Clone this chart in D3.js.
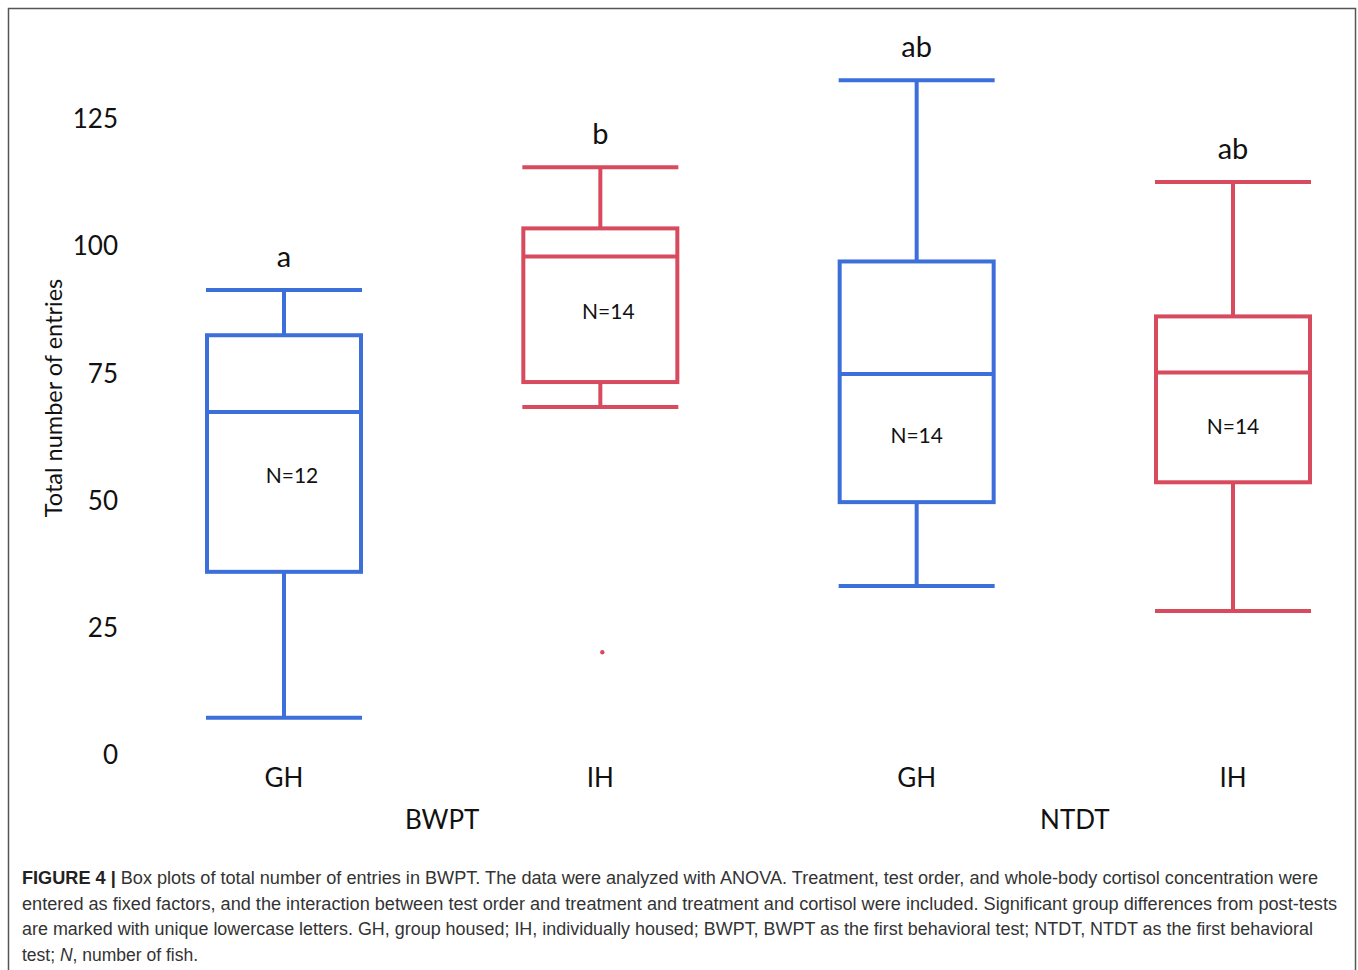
<!DOCTYPE html>
<html>
<head>
<meta charset="utf-8">
<script src="https://cdn.jsdelivr.net/npm/d3@7"></script>
<style>
  body { margin: 0; background: #fff; }
  svg { display: block; }
</style>
</head>
<body>
<div id="chart"></div>
<script>
// data
var groups = ['GH', 'IH', 'GH', 'IH']
var tests = ['BWPT', 'NTDT']
var whiskerLow = [7.3, 68.4, 33.2, 28.3]
var q1 = [36, 73.3, 49.7, 53.6]
var median = [67.4, 98, 74.9, 75.2]
var q3 = [82.5, 103.5, 97, 86.2]
var whiskerHigh = [91.4, 115.5, 132.6, 112.6]
var outliers = [[], [20.2], [], []]
var letters = ['a', 'b', 'ab', 'ab']
var nLabels = ['N=12', 'N=14', 'N=14', 'N=14']
var nLabelAt = [55, 87.2, 62.7, 64.6]
var yTicks = [0, 25, 50, 75, 100, 125]

var W = 1358, H = 970
var blue = '#3d6fdb', red = '#d84a5e'
var colors = [blue, red, blue, red]
var chartFont = 'Lato, "Open Sans", sans-serif'

var svg = d3.select('#chart').append('svg')
  .attr('width', W)
  .attr('height', H)

// frame
svg.append('rect')
  .attr('x', 8.5).attr('y', 8.5)
  .attr('width', 1347).attr('height', 980)
  .attr('fill', 'none')
  .attr('stroke', '#555')
  .attr('stroke-width', 1.5)

var y = d3.scaleLinear().domain([0, 125]).range([755, 119])
var x = d3.scalePoint().domain(d3.range(groups.length)).range([284, 1233])
var boxW = 154

// y tick labels, no axis line
svg.selectAll('text.ytick')
  .data(yTicks)
  .enter().append('text')
  .attr('class', 'ytick')
  .attr('x', 118)
  .attr('y', function(d){ return y(d) })
  .attr('dy', '0.35em')
  .attr('text-anchor', 'end')
  .style('font-family', chartFont)
  .style('font-size', '26px')
  .attr('fill', '#111')
  .text(function(d){ return d })

svg.append('text')
  .attr('transform', 'translate(62,' + 398 + ') rotate(-90)')
  .attr('text-anchor', 'middle')
  .style('font-family', chartFont)
  .style('font-size', '23.5px')
  .attr('fill', '#111')
  .text('Total number of entries')

var box = svg.selectAll('g.box')
  .data(groups)
  .enter().append('g')
  .attr('class', 'box')

box.each(function(g, i){
  var sel = d3.select(this)
  var cx = x(i)
  var c = colors[i]
  // whiskers
  sel.append('line')
    .attr('x1', cx).attr('x2', cx)
    .attr('y1', y(whiskerHigh[i])).attr('y2', y(q3[i]))
    .attr('stroke', c).attr('stroke-width', 4)
  sel.append('line')
    .attr('x1', cx).attr('x2', cx)
    .attr('y1', y(q1[i])).attr('y2', y(whiskerLow[i]))
    .attr('stroke', c).attr('stroke-width', 4)
  // caps
  ;[whiskerHigh[i], whiskerLow[i]].forEach(function(v){
    sel.append('line')
      .attr('x1', cx - boxW / 2 - 1).attr('x2', cx + boxW / 2 + 1)
      .attr('y1', y(v)).attr('y2', y(v))
      .attr('stroke', c).attr('stroke-width', 4)
  })
  // box
  sel.append('rect')
    .attr('x', cx - boxW / 2)
    .attr('y', y(q3[i]))
    .attr('width', boxW)
    .attr('height', y(q1[i]) - y(q3[i]))
    .attr('fill', 'none')
    .attr('stroke', c).attr('stroke-width', 4)
  sel.append('line')
    .attr('x1', cx - boxW / 2).attr('x2', cx + boxW / 2)
    .attr('y1', y(median[i])).attr('y2', y(median[i]))
    .attr('stroke', c).attr('stroke-width', 4)
  // outliers
  outliers[i].forEach(function(v){
    sel.append('circle')
      .attr('cx', cx + 2).attr('cy', y(v))
      .attr('r', 2.2)
      .attr('fill', c)
  })
  // group letter
  sel.append('text')
    .attr('x', cx)
    .attr('y', y(whiskerHigh[i]) - 23)
    .attr('text-anchor', 'middle')
    .style('font-family', chartFont)
    .style('font-size', '29px')
    .attr('fill', '#111')
    .text(letters[i])
  // N label
  sel.append('text')
    .attr('x', cx + (i < 2 ? 8 : 0))
    .attr('y', y(nLabelAt[i]))
    .attr('dy', '0.35em')
    .attr('text-anchor', 'middle')
    .style('font-family', chartFont)
    .style('font-size', '21px')
    .attr('fill', '#111')
    .text(nLabels[i])
  // x label
  sel.append('text')
    .attr('x', cx)
    .attr('y', 787)
    .attr('text-anchor', 'middle')
    .style('font-family', chartFont)
    .style('font-size', '26px')
    .attr('fill', '#111')
    .text(g)
})

tests.forEach(function(t, j){
  svg.append('text')
    .attr('x', (x(j * 2) + x(j * 2 + 1)) / 2)
    .attr('y', 829)
    .attr('text-anchor', 'middle')
    .style('font-family', chartFont)
    .style('font-size', '26px')
    .attr('fill', '#111')
    .text(t)
})

// caption
var capLines = [
  [['b', 'FIGURE 4 | '], ['', 'Box plots of total number of entries in BWPT. The data were analyzed with ANOVA. Treatment, test order, and whole-body cortisol concentration were']],
  [['', 'entered as fixed factors, and the interaction between test order and treatment and treatment and cortisol were included. Significant group differences from post-tests']],
  [['', 'are marked with unique lowercase letters. GH, group housed; IH, individually housed; BWPT, BWPT as the first behavioral test; NTDT, NTDT as the first behavioral']],
  [['', 'test; '], ['i', 'N'], ['', ', number of fish.']]
]
var capWidths = [1296, 1315, 1291, null]
capLines.forEach(function(line, k){
  var t = svg.append('text')
    .attr('x', 22)
    .attr('y', 884 + k * 25.5)
    .style('font-family', '"Liberation Sans", Arial, sans-serif')
    .style('font-size', '17.5px')
    .attr('fill', '#333')
  if (capWidths[k]) t.attr('textLength', capWidths[k]).attr('lengthAdjust', 'spacingAndGlyphs')
  line.forEach(function(seg){
    var s = t.append('tspan').text(seg[1])
    if (seg[0] === 'b') s.attr('font-weight', 'bold').attr('fill', '#222')
    if (seg[0] === 'i') s.attr('font-style', 'italic')
  })
})
</script>
</body>
</html>
